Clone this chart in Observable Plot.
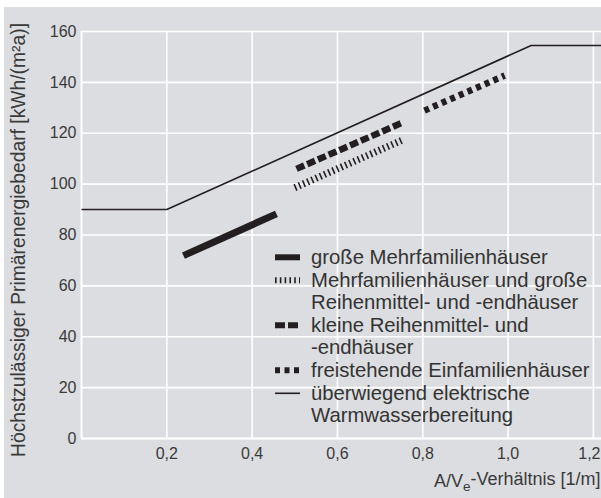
<!DOCTYPE html>
<html><head><meta charset="utf-8">
<script src="https://cdn.jsdelivr.net/npm/d3@7"></script>
<script src="https://cdn.jsdelivr.net/npm/@observablehq/plot@0.6"></script>
<style>
body{margin:0;background:#fff;}
#wrap{position:relative;width:601px;height:498px;overflow:hidden;}
#legend{position:absolute;left:275px;top:246px;font-family:"Liberation Sans",Arial,sans-serif;font-size:20.3px;color:#333;line-height:22.6px;}
.item{display:flex;align-items:flex-start;}
.sw{width:36px;flex:none;height:22.6px;}
.sw svg{display:block;}
</style></head><body><div id="wrap"><div id="legend"></div></div>
<script>
// ---- data ----
const seriesNames = [
  "große Mehrfamilienhäuser",
  "Mehrfamilienhäuser und große Reihenmittel- und -endhäuser",
  "kleine Reihenmittel- und -endhäuser",
  "freistehende Einfamilienhäuser",
  "überwiegend elektrische Warmwasserbereitung"
];
const legendLines = [
  ["große Mehrfamilienhäuser"],
  ["Mehrfamilienhäuser und große", "Reihenmittel- und -endhäuser"],
  ["kleine Reihenmittel- und", "-endhäuser"],
  ["freistehende Einfamilienhäuser"],
  ["überwiegend elektrische", "Warmwasserbereitung"]
];
const grossMfhX = [0.239, 0.457];
const grossMfhY = [71.9, 88.3];
const mfhRhX = [0.500, 0.756];
const mfhRhY = [98.6, 117.6];
const kleinRhX = [0.504, 0.750];
const kleinRhY = [106.0, 124.0];
const efhX = [0.804, 0.992];
const efhY = [128.9, 142.7];
const elektrX = [0, 0.2, 1.054, 1.219];
const elektrY = [90, 90, 154.5, 154.5];
const xTicks = [0.2, 0.4, 0.6, 0.8, 1.0, 1.2];
const yTicks = [0, 20, 40, 60, 80, 100, 120, 140, 160];
const xLabel = "A/Ve-Verhältnis [1/m]";
const yLabel = "Höchstzulässiger Primärenergiebedarf [kWh/(m²a)]";

// ---- table ----
const pairs = [[grossMfhX, grossMfhY], [mfhRhX, mfhRhY], [kleinRhX, kleinRhY], [efhX, efhY], [elektrX, elektrY]];
const rows = [];
pairs.forEach(([xs, ys], i) => xs.forEach((x, j) => rows.push({series: seriesNames[i], x, y: ys[j]})));
const of = (i) => rows.filter(d => d.series === seriesNames[i]);

const styles = [
  {strokeWidth: 7, strokeDasharray: null},
  {strokeWidth: 7, strokeDasharray: "1.6,3"},
  {strokeWidth: 6.5, strokeDasharray: "8.5,3.2"},
  {strokeWidth: 6.5, strokeDasharray: "5,4.4"},
  {strokeWidth: 1.6, strokeDasharray: null}
];
const ink = "#231f20";
const txt = "#3a3a3a";
const fmt = d => d.toFixed(1).replace(".", ",");
const lastTick = xTicks[xTicks.length - 1];

const chart = Plot.plot({
  width: 601,
  height: 498,
  marginTop: 31,
  marginLeft: 81,
  marginRight: 0,
  marginBottom: 60,
  x: {domain: [0, 1.219]},
  y: {domain: [0, 160]},
  style: {background: "transparent", fontFamily: "'Liberation Sans', Arial, sans-serif", fontSize: "16px", color: txt},
  marks: [
    Plot.gridX(xTicks, {stroke: "#fff", strokeOpacity: 1, strokeWidth: 1.6}),
    Plot.gridY(yTicks, {stroke: "#fff", strokeOpacity: 1, strokeWidth: 1.6}),
    Plot.ruleX([0], {stroke: "#fff", strokeWidth: 2}),
    Plot.ruleY([0], {stroke: "#fff", strokeWidth: 2}),
    Plot.axisX(xTicks.slice(0, -1), {tickSize: 0, tickPadding: 9, tickFormat: fmt, label: null, fontSize: 16, fill: txt}),
    Plot.axisX([lastTick], {tickSize: 0, tickPadding: 9, tickFormat: fmt, label: null, fontSize: 16, fill: txt, dx: -4}),
    Plot.axisY({ticks: yTicks, tickSize: 0, tickPadding: 5, label: null, fontSize: 16, fill: txt}),
    ...styles.map((s, i) => Plot.line(of(i), {x: "x", y: "y", stroke: ink, strokeWidth: s.strokeWidth, strokeDasharray: s.strokeDasharray, strokeLinecap: "butt", strokeLinejoin: "miter"})),
    Plot.text([yLabel], {frameAnchor: "left", text: d => d, rotate: -90, textAnchor: "middle", dx: -63, dy: 5, fontSize: 19.3, fill: txt}),
    Plot.text([xLabel], {frameAnchor: "bottom-right", text: d => d, textAnchor: "end", dx: -1, dy: 48, fontSize: 18, fill: txt})
  ]
});
chart.style.background = "linear-gradient(#fff,#fff) 0 0/100% 7px no-repeat, linear-gradient(#fff,#fff) 0 0/4px 100% no-repeat, #dcdde0";
chart.style.display = "block";

// subscript e in x label
chart.querySelectorAll("text").forEach(t => {
  if (t.textContent === xLabel) {
    const ns = "http://www.w3.org/2000/svg";
    while (t.firstChild) t.removeChild(t.firstChild);
    const a = document.createElementNS(ns, "tspan"); a.textContent = "A/V";
    const b = document.createElementNS(ns, "tspan"); b.textContent = "e"; b.setAttribute("dy", "0.3em"); b.setAttribute("font-size", "13.5");
    const c = document.createElementNS(ns, "tspan"); c.textContent = "-Verhältnis [1/m]"; c.setAttribute("dy", "-0.3em");
    t.append(a, b, c);
  }
});
const wrap = document.getElementById("wrap");
wrap.insertBefore(chart, wrap.firstChild);

// legend
const legend = document.getElementById("legend");
const swatchLens = [25, 25, 23, 24, 25];
const swatchDash = [null, "1.6,3.2", "10,3", "5,4.5", null];
legendLines.forEach((lines, i) => {
  const item = document.createElement("div"); item.className = "item";
  const sw = document.createElement("div"); sw.className = "sw";
  const w = i === 4 ? 1.6 : 6;
  sw.innerHTML = `<svg width="30" height="22.6"><line x1="0" x2="${swatchLens[i]}" y1="11.3" y2="11.3" stroke="${ink}" stroke-width="${w}" ${swatchDash[i] ? `stroke-dasharray="${swatchDash[i]}"` : ""}/></svg>`;
  const tx = document.createElement("div"); tx.innerHTML = lines.join("<br>");
  item.append(sw, tx);
  legend.append(item);
});
</script></body></html>
